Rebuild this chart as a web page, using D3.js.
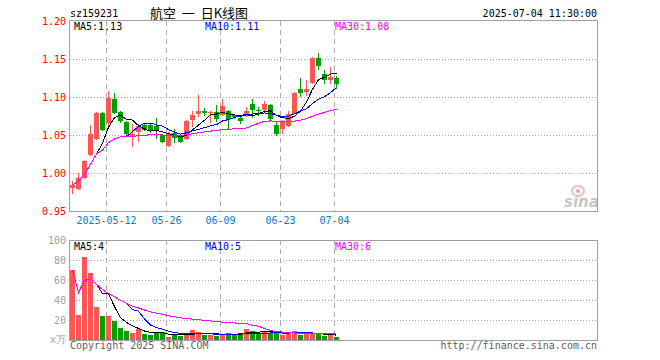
<!DOCTYPE html>
<html>
<head>
	<meta charset="UTF-8">
	<title>sz159231 航空 日K线图</title>
	<style>
html, body {
	margin:0;padding:0;background:#fff;
}
text {
	font-family: "DejaVu Sans Mono", monospace;
	font-size: 10px;
}
.cjk {font-family: "Noto Sans CJK SC", sans-serif; font-size: 13px;}
.frame {fill: none; stroke: #a0a0a0; stroke-width: 1;}
.hgrid {stroke: #aaa; stroke-dasharray: 1,2;}
.vgrid {stroke: #aaa; stroke-dasharray: 5,4;}
	</style>
	<script src="https://cdnjs.cloudflare.com/ajax/libs/d3/7.8.5/d3.min.js"></script>
</head>
<body>
<svg id="chart" width="660" height="360"></svg>
<script>
const dates = ['04-29','04-30','05-06','05-07','05-08','05-09','05-12','05-13','05-14','05-15',
	'05-16','05-19','05-20','05-21','05-22','05-23','05-26','05-27','05-28','05-29',
	'05-30','06-03','06-04','06-05','06-06','06-09','06-10','06-11','06-12','06-13',
	'06-16','06-17','06-18','06-19','06-20','06-23','06-24','06-25','06-26','06-27',
	'06-30','07-01','07-02','07-03','07-04'];
const opens = [0.980,0.979,0.993,1.023,1.045,1.079,1.066,1.098,1.080,1.067,
	1.049,1.054,1.063,1.063,1.062,1.050,1.0355,1.053,1.049,1.045,
	1.070,1.078,1.081,1.0795,1.080,1.076,1.081,1.076,1.073,1.076,
	1.091,1.0835,1.083,1.090,1.063,1.058,1.062,1.078,1.111,1.107,
	1.118,1.151,1.130,1.1215,1.1245];
const highs = [0.990,1.000,1.017,1.063,1.080,1.080,1.108,1.105,1.082,1.069,
	1.065,1.065,1.065,1.064,1.073,1.051,1.054,1.058,1.051,1.070,
	1.082,1.102,1.086,1.081,1.089,1.098,1.083,1.078,1.076,1.087,
	1.097,1.087,1.095,1.091,1.068,1.070,1.081,1.106,1.125,1.122,
	1.152,1.158,1.136,1.140,1.127];
const lows = [0.973,0.978,0.992,1.022,1.044,1.055,1.058,1.078,1.066,1.049,
	1.034,1.041,1.055,1.052,1.045,1.039,1.034,1.039,1.039,1.044,
	1.061,1.074,1.075,1.066,1.067,1.075,1.058,1.071,1.064,1.074,
	1.072,1.075,1.082,1.067,1.049,1.051,1.060,1.077,1.100,1.101,
	1.117,1.135,1.117,1.117,1.111];
const closes = [0.9845,0.994,1.016,1.051,1.079,1.056,1.099,1.079,1.068,1.051,
	1.051,1.062,1.057,1.055,1.055,1.041,1.051,1.047,1.041,1.069,
	1.076,1.082,1.079,1.080,1.071,1.088,1.071,1.073,1.069,1.081,
	1.083,1.0825,1.091,1.071,1.051,1.068,1.078,1.105,1.106,1.1105,
	1.151,1.141,1.122,1.126,1.116];
// 成交量 (万)
const volumes = [70,25,83,67,33,24,24,19,12,9,
	7,11,6,5,7,8,3,6,4,5,
	10,8,5,5,4,5,7,5,7,11,
	9,7,8,7,8,5,7,9,5,8,
	6,6,4,5,3];

const priceTicks = [0.95, 1.00, 1.05, 1.10, 1.15, 1.20];
const volTicks = [20, 40, 60, 80, 100];
const dateTickIdx = [6, 16, 25, 35, 44];
const dateTickLabels = ['2025-05-12', '05-26', '06-09', '06-23', '07-04'];

const UP = '#ff5555', DOWN = '#00a000';
const MA_COLORS = ['#000000', '#0000ff', '#ff00ff'];

const L = 70, R = 597;
const P_TOP = 21, P_BOT = 211, V_TOP = 240, V_BOT = 340;

const svg = d3.select('#chart').attr('shape-rendering', 'crispEdges');

const x = d3.scaleLinear().domain([0, dates.length]).range([L, L + 6 * dates.length]);
const bw = 5;
const cx = i => x(i) + 2.5;
const yP = d3.scaleLinear().domain([0.95, 1.20]).range([P_BOT, P_TOP]);
const yV = d3.scaleLinear().domain([0, 100]).range([V_BOT, V_TOP]);

// moving average; n=30 uses what is available at the start, like the source chart
const movingAvg = (arr, n, partial) => arr.map((v, i) => {
	if (i < n - 1 && !partial) return null;
	const s = arr.slice(Math.max(0, i - n + 1), i + 1);
	return d3.mean(s);
});

function drawGrid(yScale, ticks, top, bot) {
	svg.append('g').selectAll('line').data(ticks).enter().append('line')
		.attr('class', 'hgrid')
		.attr('x1', L).attr('x2', R)
		.attr('y1', d => Math.round(yScale(d)) + 0.5)
		.attr('y2', d => Math.round(yScale(d)) + 0.5);
	svg.append('g').selectAll('line').data(dateTickIdx).enter().append('line')
		.attr('class', 'vgrid')
		.attr('x1', d => x(d) + 0.5).attr('x2', d => x(d) + 0.5)
		.attr('y1', top).attr('y2', bot);
}

function drawMA(values, yScale, color) {
	const line = d3.line()
		.defined(d => d != null)
		.x((d, i) => cx(i))
		.y(d => yScale(d));
	svg.append('path').datum(values)
		.attr('d', line)
		.attr('fill', 'none')
		.attr('stroke', color)
		.attr('stroke-width', 1);
}

// ---------- price panel ----------
drawGrid(yP, [1.00, 1.05, 1.10, 1.15], P_TOP, P_BOT);

const pAxis = svg.append('g').attr('transform', `translate(${L},0)`)
	.call(d3.axisLeft(yP).tickValues(priceTicks).tickSize(0).tickPadding(4).tickFormat(d3.format('.2f')));
pAxis.select('.domain').remove();
pAxis.selectAll('text').attr('fill', '#ff0000').style('font-size', '10px').style('font-family', '"DejaVu Sans Mono", monospace');

const candles = svg.append('g').selectAll('g').data(dates).enter().append('g')
	.attr('fill', (d, i) => closes[i] >= opens[i] ? UP : DOWN)
	.attr('stroke', (d, i) => closes[i] >= opens[i] ? UP : DOWN);
candles.append('line')
	.attr('x1', (d, i) => cx(i)).attr('x2', (d, i) => cx(i))
	.attr('y1', (d, i) => yP(highs[i])).attr('y2', (d, i) => yP(lows[i]));
candles.append('rect')
	.attr('stroke', 'none')
	.attr('x', (d, i) => x(i))
	.attr('width', bw)
	.attr('y', (d, i) => Math.round(yP(Math.max(opens[i], closes[i]))))
	.attr('height', (d, i) => Math.max(1, Math.round(yP(Math.min(opens[i], closes[i])) - yP(Math.max(opens[i], closes[i])))));

drawMA(movingAvg(closes, 5), yP, MA_COLORS[0]);
drawMA(movingAvg(closes, 10), yP, MA_COLORS[1]);
drawMA(movingAvg(closes, 30, true), yP, MA_COLORS[2]);

svg.append('rect').attr('class', 'frame')
	.attr('x', L - 0.5).attr('y', P_TOP - 0.5).attr('width', R - L + 1).attr('height', P_BOT - P_TOP + 1);

const dAxis = svg.append('g').attr('transform', `translate(0,${P_BOT})`)
	.call(d3.axisBottom(x).tickValues(dateTickIdx).tickSize(0).tickPadding(6).tickFormat((d, k) => dateTickLabels[k]));
dAxis.select('.domain').remove();
dAxis.selectAll('text').attr('fill', '#0080cc').style('font-size', '10px').style('font-family', '"DejaVu Sans Mono", monospace');

svg.append('text').attr('x', 74).attr('y', 30).attr('fill', MA_COLORS[0]).text('MA5:1.13');
svg.append('text').attr('x', 205).attr('y', 30).attr('fill', MA_COLORS[1]).text('MA10:1.11');
svg.append('text').attr('x', 335).attr('y', 30).attr('fill', MA_COLORS[2]).text('MA30:1.08');

// ---------- volume panel ----------
drawGrid(yV, [20, 40, 60, 80], V_TOP, V_BOT);

const vAxis = svg.append('g').attr('transform', `translate(${L},0)`)
	.call(d3.axisLeft(yV).tickValues(volTicks).tickSize(0).tickPadding(4));
vAxis.select('.domain').remove();
vAxis.selectAll('text').attr('fill', '#a0a0a0').style('font-size', '10px').style('font-family', '"DejaVu Sans Mono", monospace');
svg.append('text').attr('x', 66).attr('y', V_BOT).attr('dy', '0.32em').attr('text-anchor', 'end')
	.attr('fill', '#a0a0a0').text('x万');

svg.append('g').selectAll('rect').data(volumes).enter().append('rect')
	.attr('x', (d, i) => x(i))
	.attr('width', bw)
	.attr('y', d => yV(d))
	.attr('height', d => V_BOT - yV(d))
	.attr('fill', (d, i) => closes[i] >= opens[i] ? UP : DOWN);

drawMA(movingAvg(volumes, 5), yV, MA_COLORS[0]);
drawMA(movingAvg(volumes, 10), yV, MA_COLORS[1]);
drawMA(movingAvg(volumes, 30, true), yV, MA_COLORS[2]);

svg.append('rect').attr('class', 'frame')
	.attr('x', L - 0.5).attr('y', V_TOP + 0.5).attr('width', R - L + 1).attr('height', V_BOT - V_TOP);

svg.append('text').attr('x', 74).attr('y', 250).attr('fill', MA_COLORS[0]).text('MA5:4');
svg.append('text').attr('x', 205).attr('y', 250).attr('fill', MA_COLORS[1]).text('MA10:5');
svg.append('text').attr('x', 335).attr('y', 250).attr('fill', MA_COLORS[2]).text('MA30:6');

// ---------- header / footer ----------
svg.append('text').attr('x', 70).attr('y', 16.5).attr('fill', '#000').text('sz159231');
svg.append('text').attr('class', 'cjk').attr('x', 150).attr('y', 18).attr('fill', '#000')
	.text('航空\u00a0\u00a0一\u00a0\u00a0日K线图');
svg.append('text').attr('x', R).attr('y', 16.5).attr('text-anchor', 'end').attr('fill', '#000').text('2025-07-04 11:30:00');
svg.append('text').attr('x', 70).attr('y', 349).attr('fill', '#606060').text('Copyright 2025 SINA.COM');
svg.append('text').attr('x', R).attr('y', 349).attr('text-anchor', 'end').attr('fill', '#606060').text('http://finance.sina.com.cn');

// sina watermark
const logo = svg.append('g').attr('shape-rendering', 'auto').attr('opacity', 0.55);
logo.append('ellipse').attr('cx', 578).attr('cy', 191).attr('rx', 6).attr('ry', 5)
	.attr('fill', 'none').attr('stroke', '#f08080').attr('stroke-width', 2);
logo.append('circle').attr('cx', 578).attr('cy', 191).attr('r', 2).attr('fill', '#c06060');
logo.append('text').attr('x', 564).attr('y', 207).attr('fill', '#999')
	.style('font-family', '"DejaVu Sans", sans-serif').style('font-size', '15px')
	.style('font-style', 'italic').style('font-weight', 'bold').text('sina');
</script>
</body>
</html>
